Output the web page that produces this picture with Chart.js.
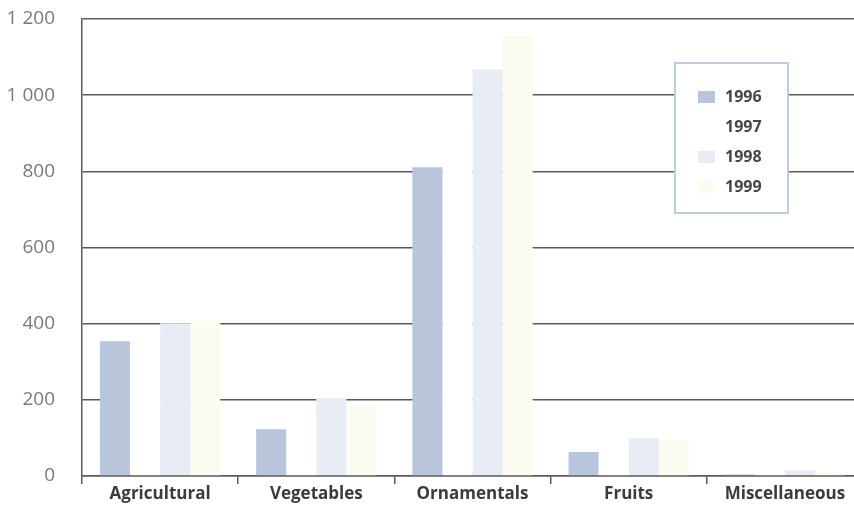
<!DOCTYPE html>
<html>
<head>
<meta charset="utf-8">
<script src="https://cdn.jsdelivr.net/npm/chart.js@4"></script>
<style>
  html, body { margin: 0; padding: 0; background: #fff; overflow: hidden; }
  #wrap { position: relative; width: 866px; height: 506px; }
</style>
</head>
<body>
<div id="wrap"><canvas id="barChart"></canvas></div>
<script>
// categories and series
var categories = ['Agricultural', 'Vegetables', 'Ornamentals', 'Fruits', 'Miscellaneous'];
var years = ['1996', '1997', '1998', '1999'];
var values1996 = [354, 123, 811, 63, 4];
var values1997 = [380, 160, 950, 80, 8];   // white bars, only seen where they hide grid lines
var values1998 = [401, 205, 1068, 100, 15];
var values1999 = [409, 181, 1157, 95, 8];
var yTickLabels = ['0', '200', '400', '600', '800', '1 000', '1 200'];

var colors = ['#b9c5da', '#ffffff', '#e7ecf5', '#fbfbf1'];
var lineColor = '#5e5959';

// legend box drawn inside the plot, white so it covers the grid lines
var boxLegend = {
    id: 'boxLegend',
    afterDatasetsDraw: function (chart) {
        var ctx = chart.ctx;
        ctx.save();
        ctx.fillStyle = '#ffffff';
        ctx.fillRect(675, 63, 113, 150);
        ctx.strokeStyle = '#bccde3';
        ctx.lineWidth = 2;
        ctx.strokeRect(675, 63, 113, 150);
        ctx.font = 'bold 16px "Open Sans", sans-serif';
        ctx.textBaseline = 'middle';
        chart.data.datasets.forEach(function (ds, i) {
            var y = 97 + i * 30;
            ctx.fillStyle = ds.backgroundColor;
            ctx.fillRect(698, y - 6, 17, 12);
            ctx.fillStyle = '#474747';
            ctx.fillText(ds.label, 725, y);
        });
        ctx.restore();
    }
};

var ctx = document.getElementById('barChart').getContext('2d');
var myBarChart = new Chart(ctx, {
    type: 'bar',
    data: {
        labels: categories,
        datasets: [
            { label: years[0], data: values1996, backgroundColor: colors[0] },
            { label: years[1], data: values1997, backgroundColor: colors[1] },
            { label: years[2], data: values1998, backgroundColor: colors[2] },
            { label: years[3], data: values1999, backgroundColor: colors[3] }
        ]
    },
    options: {
        responsive: true,
        maintainAspectRatio: false,
        animation: false,
        layout: { padding: { top: 19, right: 3, left: 0, bottom: 0 } },
        datasets: {
            bar: { categoryPercentage: 0.77, barPercentage: 1 }
        },
        plugins: {
            legend: { display: false },
            tooltip: { enabled: false }
        },
        scales: {
            x: {
                afterFit: function (scale) { scale.height = 30; },
                grid: {
                    offset: true,
                    drawOnChartArea: false,
                    drawTicks: true,
                    tickLength: 8,
                    color: lineColor,
                    lineWidth: 1.5
                },
                border: { display: true, color: lineColor, width: 1.5 },
                ticks: {
                    padding: 0,
                    color: '#3b3b3b',
                    font: { family: '"Open Sans", sans-serif', size: 17, weight: 'bold' }
                }
            },
            y: {
                min: 0,
                max: 1200,
                afterFit: function (scale) {
                    scale.width = 82;
                    scale.paddingTop = 0;
                    scale.paddingBottom = 0;
                },
                ticks: {
                    stepSize: 200,
                    padding: 0,
                    color: '#7a7a7a',
                    font: { family: '"Open Sans", sans-serif', size: 19 },
                    callback: function (value, index) { return yTickLabels[index]; }
                },
                grid: {
                    drawTicks: true,
                    tickLength: 27,
                    tickColor: 'rgba(0,0,0,0)',
                    color: lineColor,
                    lineWidth: 1.5
                },
                border: { display: true, color: lineColor, width: 1.5 }
            }
        }
    },
    plugins: [boxLegend]
});
</script>
</body>
</html>
